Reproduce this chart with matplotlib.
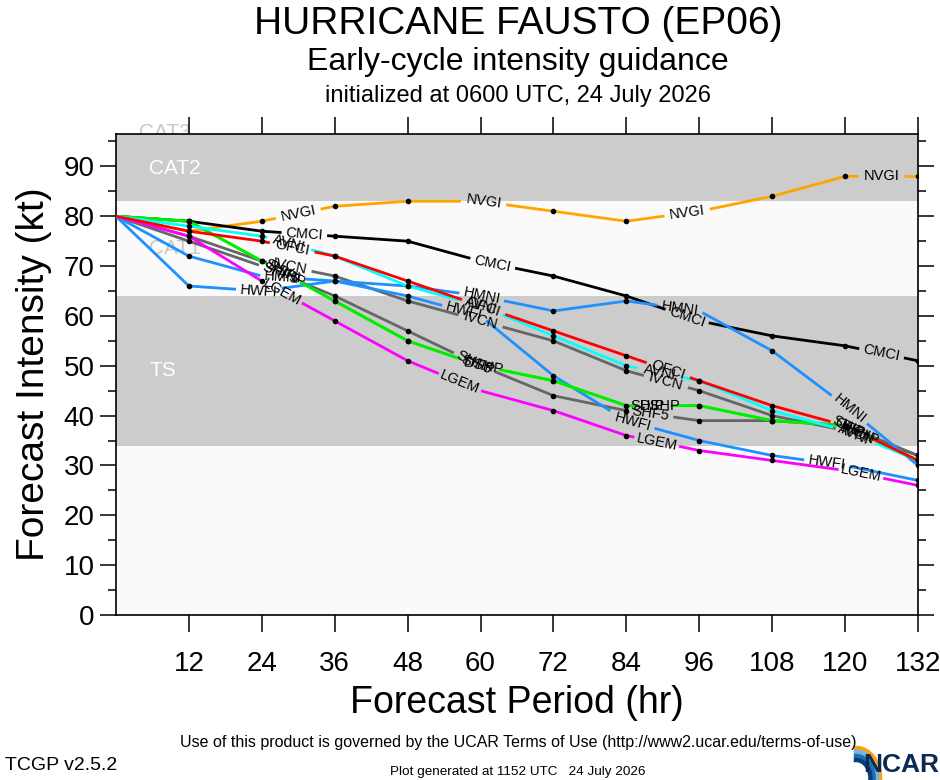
#!/usr/bin/env python3
"""Early-cycle intensity guidance plot for Hurricane Fausto (EP06)."""
import numpy as np
import matplotlib
matplotlib.use("Agg")
import matplotlib.pyplot as plt
from matplotlib.ticker import MultipleLocator, FixedLocator

plt.rcParams["font.family"] = ["Liberation Sans", "DejaVu Sans"]

# forecast hours and model intensities (kt)
hours = [0, 12, 24, 36, 48, 60, 72, 84, 96, 108, 120, 132]
nvgi = [80, 77, 79, 82, 83, 83, 81, 79, 81, 84, 88, 88]
cmci = [80, 79, 77, 76, 75, 71, 68, 64, 59, 56, 54, 51]
ofci = [80, 77, 75, 72, 67, 62, 57, 52, 47, 42, 38, 31]
avni = [80, 78, 76, 72, 66, 62, 56, 50, 47, 41, 37, 31]
hmni = [80, 72, 68, 67, 66, 64, 61, 63, 61, 53, 42, 30]
hwfi = [80, 66, 65, 67, 64, 60, 48, 39, 35, 32, 30, 27]
ivcn = [80, 76, 71, 68, 63, 59, 55, 49, 45, 40, 37, 32]
shf5 = [80, 75, 70, 64, 57, 50, 44, 41, 39, 39, 38, 32]
ship = [80, 79, 71, 63, 55, 50, 47, 42, 42, 39, 38, 31]
dshp = [80, 79, 71, 63, 55, 50, 47, 42, 42, 39, 38, 31]
lgem = [80, 76, 67, 59, 51, 45, 41, 36, 33, 31, 29, 26]

# saffir-simpson bands (kt)
bands = [(34, 64, "TS"), (64, 83, "CAT1"), (83, 96, "CAT2")]

GRAY = "#cccccc"
LIGHT = "#fafafa"

# name, values, colour, where the in-line labels sit (hours)
models = [
    ("NVGI", nvgi, "#ffa500", [30, 60.5, 94, 126]),
    ("CMCI", cmci, "black", [31, 62, 94, 126]),
    ("SHF5", shf5, "#666666", [27, 59, 88]),
    ("IVCN", ivcn, "#666666", [28.5, 60, 90.5, 122]),
    ("HMNI", hmni, "#1e90ff", [27.5, 60.2, 92.8, 120.7]),
    ("HWFI", hwfi, "#1e90ff", [23.5, 57.3, 85, 117]),
    ("SHIP", ship, "#00ee00", [27, 59.5, 87.5, 120.5]),
    ("DSHP", dshp, "#00ee00", [28, 60.5, 89.5, 122.5]),
    ("LGEM", lgem, "#ff00ff", [27.3, 56.6, 89, 122.6]),
    ("AVNI", avni, "#00ffff", [28.5, 60, 89.5, 121.5]),
    ("OFCI", ofci, "red", [29, 60.5, 90.9, 121]),
]

LABEL_FS = 10.5


def seg_index(h, hr):
    return min(max(int(np.searchsorted(h, hr)), 1), len(h) - 1)


def draw_model(ax, name, h, vals, col, spots):
    # pixels per data unit
    sx = ax.transData.transform((1, 0))[0] - ax.transData.transform((0, 0))[0]
    sy = ax.transData.transform((0, 1))[1] - ax.transData.transform((0, 0))[1]
    half_px = 0.5 * len(name) * 0.68 * LABEL_FS * 100 / 72 + 3
    gaps = []
    for hr in spots:
        i = seg_index(h, hr)
        slope = (vals[i] - vals[i - 1]) / (h[i] - h[i - 1])
        per_hr = np.hypot(sx, sy * slope)
        d = half_px / per_hr
        gaps.append((hr - d, hr + d))
    gaps.sort()
    starts = [h[0]] + [g[1] for g in gaps]
    ends = [g[0] for g in gaps] + [h[-1]]
    for a, b in zip(starts, ends):
        if b <= a:
            continue
        xs = [a] + [x for x in h if a < x < b] + [b]
        ax.plot(xs, np.interp(xs, h, vals), color=col, lw=2.0, zorder=3,
                solid_capstyle="butt")
    # forecast points, hidden where a label sits on them
    keep = [k for k in range(1, len(h))
            if not any(a < h[k] < b for a, b in gaps)]
    ax.plot(h[keep], vals[keep], "o", color="black", ms=3.0, zorder=4)
    for hr in spots:
        i = seg_index(h, hr)
        v = np.interp(hr, h, vals)
        ang = np.degrees(np.arctan2(vals[i] - vals[i - 1], h[i] - h[i - 1]))
        ax.text(hr, v, name, rotation=ang, transform_rotates_text=True,
                rotation_mode="anchor", ha="center", va="center",
                fontsize=LABEL_FS, color="black", zorder=6)


def main():
    fig = plt.figure(figsize=(9.4, 7.8), dpi=100)
    ax = fig.add_axes([116 / 940, 1 - 615 / 780, 802 / 940, 481 / 780])
    ax.set_facecolor(LIGHT)
    ax.set_xlim(0, 132)
    ax.set_ylim(0, 96.5)

    ax.axhspan(34, 64, color=GRAY, lw=0, zorder=0)
    ax.axhspan(83, 97, color=GRAY, lw=0, zorder=0)
    label_style = {"TS": "white", "CAT1": "#c8c8c8", "CAT2": "white"}
    for lo, hi, name in bands:
        ax.text(5.5, (lo + hi) / 2, name, color=label_style[name], fontsize=15,
                ha="left", va="center", zorder=1)
    # CAT3 label sits just above the frame, partly hidden behind it
    fig.text(139 / 940, 1 - 133 / 780, "CAT3", color="#c8c8c8", fontsize=15,
             ha="left", va="center", zorder=-1)

    h = np.array(hours, dtype=float)
    for name, vals, col, spots in models:
        draw_model(ax, name, h, np.array(vals, dtype=float), col, spots)

    ax.xaxis.set_major_locator(FixedLocator(hours[1:]))
    ax.set_yticks(range(0, 91, 10))
    ax.yaxis.set_minor_locator(MultipleLocator(5))
    ax.tick_params(axis="x", which="major", direction="out", length=12,
                   width=1.1, top=True, labelsize=20, pad=14)
    ax.tick_params(axis="y", which="major", direction="out", length=11.5,
                   width=1.1, right=True, labelsize=20, pad=4)
    ax.tick_params(axis="y", which="minor", direction="out", length=6,
                   width=1.1, right=True)
    for s in ax.spines.values():
        s.set_linewidth(1.2)

    ax.set_xlabel("Forecast Period (hr)", fontsize=27, labelpad=6)
    ax.set_ylabel("Forecast Intensity (kt)", fontsize=28, labelpad=8)

    fig.text(518 / 940, 1 - 24 / 780, "HURRICANE FAUSTO (EP06)", fontsize=28,
             ha="center", va="center")
    fig.text(518 / 940, 1 - 62 / 780, "Early-cycle intensity guidance",
             fontsize=23, ha="center", va="center")
    fig.text(518 / 940, 1 - 96 / 780, "initialized at 0600 UTC, 24 July 2026",
             fontsize=17, ha="center", va="center")

    fig.text(518 / 940, 1 - 742 / 780,
             "Use of this product is governed by the UCAR Terms of Use "
             "(http://www2.ucar.edu/terms-of-use)",
             fontsize=11.5, ha="center", va="center")
    fig.text(5 / 940, 1 - 765 / 780, "TCGP v2.5.2", fontsize=14,
             ha="left", va="center")
    fig.text(518 / 940, 1 - 772 / 780,
             "Plot generated at 1152 UTC   24 July 2026", fontsize=9.7,
             ha="center", va="center")

    # small NCAR mark
    lax = fig.add_axes([852 / 940, 0, 88 / 940, 38 / 780])
    lax.set_xlim(0, 88)
    lax.set_ylim(0, 38)
    lax.axis("off")
    th = np.linspace(0, np.pi / 2, 40)
    for r, c in ((30, "#f7a11a"), (26, "#6fb7e6"), (22, "#1f6fb5"), (18, "#0b3c7d")):
        lax.plot(4 + r * np.cos(th) * 0.8, 2 + r * np.sin(th), color=c, lw=3.2)
    lax.text(87, 3, "NCAR", fontsize=19, fontweight="bold", color="#0d2a52",
             ha="right", va="bottom")

    fig.savefig("out.png", dpi=100)


if __name__ == "__main__":
    main()
